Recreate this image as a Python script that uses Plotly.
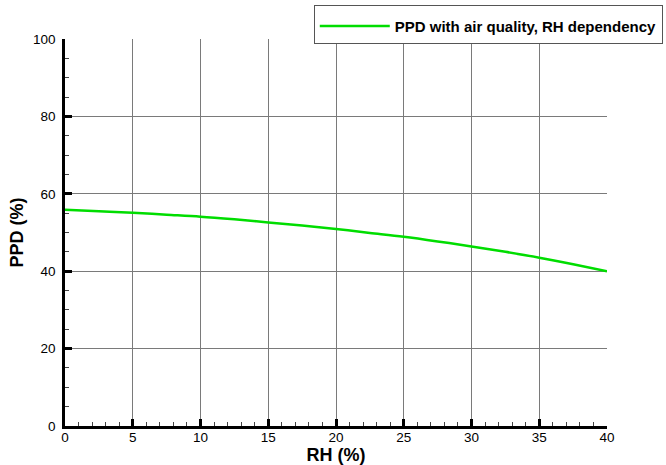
import plotly.graph_objects as go

# Relative humidity (%) and predicted percentage dissatisfied (%)
rh = [0, 2.5, 5, 7.5, 10, 12.5, 15, 17.5, 20, 22.5, 25, 27.5, 30, 32.5, 35, 37.5, 40]
ppd = [55.9, 55.5, 55.1, 54.6, 54.1, 53.4, 52.6, 51.8, 50.9, 49.9, 48.9, 47.7,
       46.4, 45.0, 43.5, 41.8, 40.0]

x_ticks = [0, 5, 10, 15, 20, 25, 30, 35, 40]
y_ticks = [0, 20, 40, 60, 80, 100]

font_family = "Liberation Sans, Arial, sans-serif"

fig = go.Figure()
fig.add_trace(go.Scatter(
    x=rh, y=ppd, mode="lines", line=dict(color="#00dd00", width=2.5, shape="spline"),
    name="<b>PPD with air quality, RH dependency</b>",
))

axis_common = dict(
    showline=True, linecolor="black", linewidth=2.5,
    ticks="inside", ticklen=7, tickwidth=2.5, tickcolor="black",
    showgrid=True, gridcolor="#7a7a7a", gridwidth=1,
    zeroline=False, mirror=False,
    tickfont=dict(family=font_family, size=13.5, color="black"),
)

fig.update_xaxes(
    range=[0, 40], tickvals=x_ticks, ticktext=[str(v) for v in x_ticks],
    minor=dict(dtick=1, ticks="inside", ticklen=4, tickwidth=1, tickcolor="#444",
               showgrid=False),
    title=dict(text="<b>RH (%)</b>", font=dict(family=font_family, size=18, color="black"),
               standoff=0),
    ticklabelstandoff=-3,
    **axis_common,
)
fig.update_yaxes(
    range=[0, 100], tickvals=y_ticks, ticktext=[str(v) for v in y_ticks],
    minor=dict(dtick=5, ticks="inside", ticklen=4, tickwidth=1, tickcolor="#444",
               showgrid=False),
    title=dict(text="<b>PPD (%)</b>", font=dict(family=font_family, size=18, color="black"),
               standoff=5),
    ticklabelstandoff=4,
    **axis_common,
)

fig.update_layout(
    width=666, height=465,
    margin=dict(l=65, r=59, t=39, b=39, autoexpand=False),
    plot_bgcolor="white", paper_bgcolor="white",
    showlegend=True,
    legend=dict(
        x=0.459, y=1.088, xanchor="left", yanchor="top",
        bgcolor="white", bordercolor="#555", borderwidth=1,
        font=dict(family=font_family, size=15, color="black"),
        itemwidth=70,
        title=dict(text=" ", font=dict(size=3)),
    ),
)

fig.write_html("out.html")
